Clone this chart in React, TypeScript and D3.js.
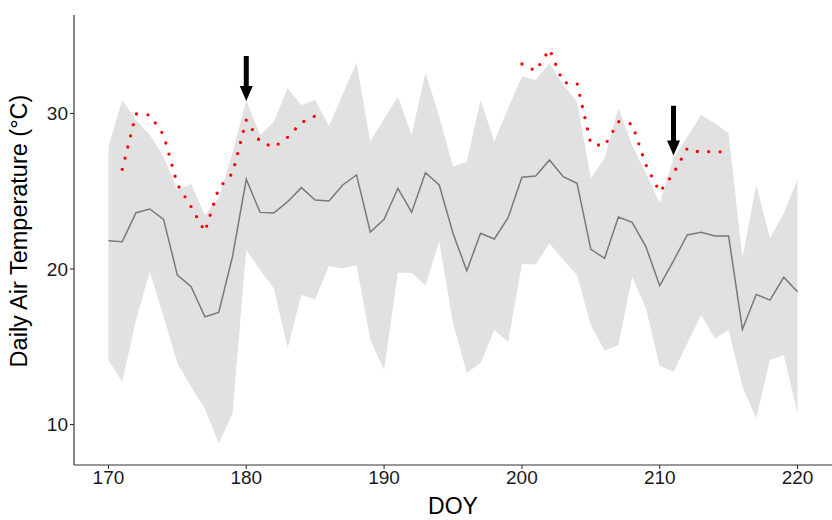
import React from "react";
import * as d3 from "d3";

const days: number[] = d3.range(170, 221);

const meanTemp: number[] = [
  21.82, 21.76, 23.62, 23.86, 23.19, 19.61, 18.86, 16.93, 17.21, 20.79,
  25.77, 23.64, 23.6, 24.33, 25.23, 24.44, 24.37, 25.4, 26.05, 22.38,
  23.2, 25.19, 23.65, 26.19, 25.4, 22.3, 19.89, 22.3, 21.93, 23.3,
  25.9, 25.98, 27.01, 25.94, 25.51, 21.27, 20.69, 23.34, 23.0, 21.43,
  18.93, 20.53, 22.19, 22.36, 22.12, 22.12, 16.12, 18.37, 18.0, 19.47,
  18.54,
];

const upperTemp: number[] = [
  27.87, 30.87, 29.58, 28.62, 27.22, 25.08, 25.47, 23.47, 24.55, 27.44,
  30.87, 28.62, 29.47, 31.62, 30.55, 30.87, 29.2, 31.23, 33.27, 28.19,
  29.65, 31.08, 28.62, 32.62, 29.8, 26.58, 26.9, 30.87, 28.19, 30.33,
  32.37, 32.15, 33.23, 31.83, 30.76, 25.83, 27.12, 30.33, 27.97, 26.15,
  24.22, 27.12, 28.51, 29.9, 29.37, 28.73, 20.69, 25.4, 21.97, 23.58,
  25.77,
];

const lowerTemp: number[] = [
  14.15, 12.75, 16.72, 19.83, 16.93, 13.94, 12.43, 11.04, 8.79, 10.72,
  21.22, 19.94, 18.76, 14.9, 18.33, 18.05, 20.19, 20.04, 20.26, 15.43,
  13.5, 19.76, 19.76, 18.93, 21.76, 16.51, 13.33, 13.94, 16.08, 15.33,
  20.3, 20.3, 21.65, 20.58, 19.61, 16.4, 14.75, 15.11, 19.5, 17.47,
  13.76, 13.4, 15.22, 17.04, 15.54, 16.08, 12.43, 10.4, 14.15, 14.47,
  10.72,
];

// null = no observation
const observedTemp: (number | null)[] = [
  null, 26.41, 29.97, 29.9, 28.62, 25.44, 24.0, 22.4, 25.19, 26.15,
  29.58, 28.19, 27.83, 28.47, 29.41, 29.84, null, null, null, null,
  null, null, null, null, null, null, null, null, null, null,
  33.18, 32.73, 34.13, 31.98, 31.94, 28.05, 27.91, 29.47, 29.32, 26.69,
  24.95, 26.15, 27.76, 27.48, 27.59, 27.44, null, null, null, null,
  null,
];

const arrowDays: number[] = [180, 211];
const arrowFrom: number[] = [33.7, 30.5];
const arrowTo: number[] = [30.8, 27.3];

const xTicks: number[] = [170, 180, 190, 200, 210, 220];
const yTicks: number[] = [10, 20, 30];

const W = 832;
const H = 520;
const left = 74;
const right = 832;
const top = 15;
const bottom = 465;

export default function App() {
  const x = d3.scaleLinear().domain([167.5, 222.5]).range([left, right]);
  const y = d3.scaleLinear().domain([7.4, 36.33]).range([bottom, top]);

  const band = d3
    .area<number>()
    .x((_, i) => x(days[i]))
    .y0((_, i) => y(lowerTemp[i]))
    .y1((_, i) => y(upperTemp[i]));

  const meanLine = d3
    .line<number>()
    .x((_, i) => x(days[i]))
    .y((d) => y(d));

  const obsLine = d3
    .line<number | null>()
    .defined((d) => d !== null)
    .x((_, i) => x(days[i]))
    .y((d) => y(d as number));

  const font = "'Liberation Sans', Arial, sans-serif";

  return (
    <svg
      width={W}
      height={H}
      style={{ position: "absolute", left: 0, top: 0, background: "#fff" }}
    >
      <path d={band(upperTemp) || ""} fill="#e1e1e1" stroke="none" />
      <path
        d={meanLine(meanTemp) || ""}
        fill="none"
        stroke="#7a7a7a"
        strokeWidth={1.5}
      />
      <path
        d={obsLine(observedTemp) || ""}
        fill="none"
        stroke="#ff0000"
        strokeWidth={3.3}
        strokeLinecap="round"
        strokeDasharray="0 11.5"
      />
      {arrowDays.map((d, i) => {
        const cx = x(d);
        const y0 = y(arrowFrom[i]);
        const y1 = y(arrowTo[i]);
        const headLen = 15;
        const sw = 2.5;
        const hw = 6.5;
        const pts = [
          [cx - sw, y0],
          [cx + sw, y0],
          [cx + sw, y1 - headLen],
          [cx + hw, y1 - headLen],
          [cx, y1],
          [cx - hw, y1 - headLen],
          [cx - sw, y1 - headLen],
        ];
        return (
          <polygon
            key={d}
            points={pts.map((p) => p.join(",")).join(" ")}
            fill="#000"
          />
        );
      })}
      {/* axes */}
      <line x1={left} x2={left} y1={top} y2={bottom} stroke="#333" strokeWidth={1.2} />
      <line x1={left} x2={right} y1={bottom} y2={bottom} stroke="#333" strokeWidth={1.2} />
      {xTicks.map((t) => (
        <g key={"x" + t}>
          <line x1={x(t)} x2={x(t)} y1={bottom} y2={bottom + 4} stroke="#333" strokeWidth={1.1} />
          <text
            x={x(t)}
            y={484}
            textAnchor="middle"
            fontFamily={font}
            fontSize={19}
            fill="#1a1a1a"
          >
            {t}
          </text>
        </g>
      ))}
      {yTicks.map((t) => (
        <g key={"y" + t}>
          <line x1={left - 4} x2={left} y1={y(t)} y2={y(t)} stroke="#333" strokeWidth={1.1} />
          <text
            x={68}
            y={y(t)}
            dy="0.35em"
            textAnchor="end"
            fontFamily={font}
            fontSize={19}
            fill="#1a1a1a"
          >
            {t}
          </text>
        </g>
      ))}
      <text
        x={(left + right) / 2}
        y={514}
        textAnchor="middle"
        fontFamily={font}
        fontSize={23}
        fill="#000"
      >
        DOY
      </text>
      <text
        transform={`translate(27, ${231}) rotate(-90)`}
        textAnchor="middle"
        fontFamily={font}
        fontSize={23.5}
        fill="#000"
      >
        Daily Air Temperature (°C)
      </text>
    </svg>
  );
}
